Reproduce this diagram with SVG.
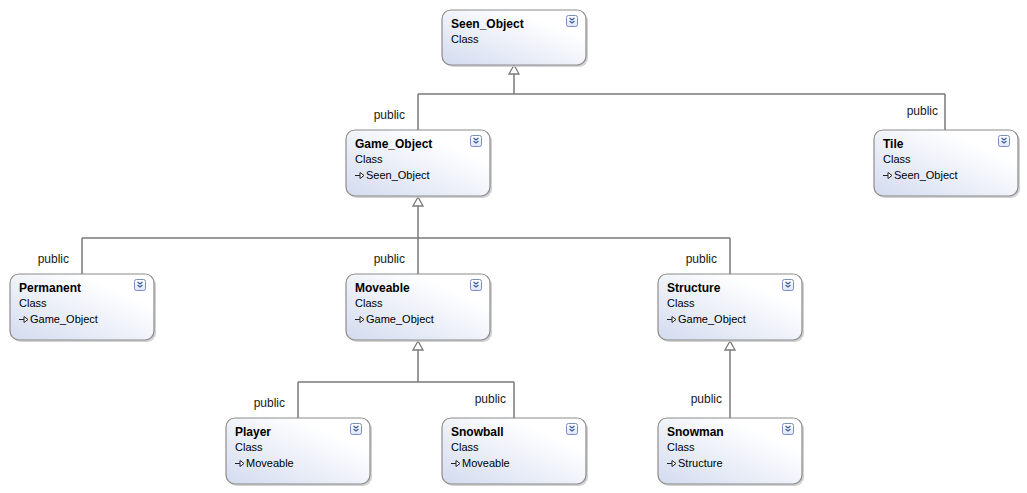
<svg xmlns="http://www.w3.org/2000/svg" width="1027" height="493" viewBox="0 0 1027 493">
<defs>
<linearGradient id="g" x1="0" y1="1" x2="1" y2="0">
<stop offset="0" stop-color="#d3dbef"/>
<stop offset="0.75" stop-color="#ffffff"/>
</linearGradient>
<linearGradient id="ig" x1="0" y1="0" x2="0" y2="1">
<stop offset="0" stop-color="#ffffff"/>
<stop offset="1" stop-color="#dfe6f5"/>
</linearGradient>
<g id="icon">
<rect x="0.5" y="0.5" width="11" height="11" rx="2" fill="url(#ig)" stroke="#7b8fb8"/>
<path d="M3.5 3 L6 5 L8.5 3 M3.5 6 L6 8 L8.5 6" fill="none" stroke="#3a5a9a" stroke-width="1.2"/>
</g>
<g id="inh">
<path d="M0 -3.5 L5 -3.5" stroke="#222" stroke-width="1" fill="none"/>
<path d="M5 -6.5 L9 -3.5 L5 -0.5 Z" fill="#fff" stroke="#222" stroke-width="1"/>
</g>
</defs>
<style>
.box{fill:url(#g);stroke:#8c8c8c;stroke-width:1.2}
.sh{fill:#c8c8c8;opacity:0.8}
.t{font-family:"Segoe UI","Liberation Sans",sans-serif;font-size:12px;font-weight:bold;fill:#000}
.s{font-family:"Segoe UI","Liberation Sans",sans-serif;font-size:11px;fill:#000}
.lbl{font-family:"Segoe UI","Liberation Sans",sans-serif;font-size:12px;fill:#1a1a1a}
.ln{fill:none;stroke:#7a7a7a;stroke-width:1.5}
.tri{fill:#fff;stroke:#7a7a7a;stroke-width:1.3}
</style>
<rect width="1027" height="493" fill="#fff"/>

<g id="connectors">
<path class="ln" d="M514 74 V94 M418 94 H945 M418 94 V130 M945 94 V130"/>
<path class="tri" d="M514 65 L519 74 L509 74 Z"/>
<path class="ln" d="M418 206 V238 M82 238 H730 M82 238 V274 M418 238 V274 M730 238 V274"/>
<path class="tri" d="M418 197 L423 206 L413 206 Z"/>
<path class="ln" d="M418 350 V382 M298 382 H514 M298 382 V418 M514 382 V418"/>
<path class="tri" d="M418 341 L423 350 L413 350 Z"/>
<path class="ln" d="M730 350 V418"/>
<path class="tri" d="M730 341 L735 350 L725 350 Z"/>
<text class="lbl" x="405" y="119" text-anchor="end">public</text>
<text class="lbl" x="938" y="115" text-anchor="end">public</text>
<text class="lbl" x="69" y="263" text-anchor="end">public</text>
<text class="lbl" x="405" y="263" text-anchor="end">public</text>
<text class="lbl" x="717" y="263" text-anchor="end">public</text>
<text class="lbl" x="285" y="407" text-anchor="end">public</text>
<text class="lbl" x="506" y="403" text-anchor="end">public</text>
<text class="lbl" x="722" y="403" text-anchor="end">public</text>
</g>

<g id="seen_object">
<rect class="sh" x="444" y="12" width="144" height="55" rx="9"/>
<rect class="box" x="442" y="10" width="144" height="55" rx="9"/>
<text class="t" x="451" y="28">Seen_Object</text>
<text class="s" x="451" y="43">Class</text>
<use href="#icon" x="566" y="15"/>
</g>

<g id="game_object">
<rect class="sh" x="348" y="132" width="144" height="66" rx="9"/>
<rect class="box" x="346" y="130" width="144" height="66" rx="9"/>
<text class="t" x="355" y="148">Game_Object</text>
<text class="s" x="355" y="163">Class</text>
<use href="#inh" x="355" y="179"/>
<text class="s" x="366" y="179">Seen_Object</text>
<use href="#icon" x="470" y="135"/>
</g>

<g id="tile">
<rect class="sh" x="876" y="132" width="144" height="66" rx="9"/>
<rect class="box" x="874" y="130" width="144" height="66" rx="9"/>
<text class="t" x="883" y="148">Tile</text>
<text class="s" x="883" y="163">Class</text>
<use href="#inh" x="883" y="179"/>
<text class="s" x="894" y="179">Seen_Object</text>
<use href="#icon" x="998" y="135"/>
</g>

<g id="permanent">
<rect class="sh" x="12" y="276" width="144" height="66" rx="9"/>
<rect class="box" x="10" y="274" width="144" height="66" rx="9"/>
<text class="t" x="19" y="292">Permanent</text>
<text class="s" x="19" y="307">Class</text>
<use href="#inh" x="19" y="323"/>
<text class="s" x="30" y="323">Game_Object</text>
<use href="#icon" x="134" y="279"/>
</g>

<g id="moveable">
<rect class="sh" x="348" y="276" width="144" height="66" rx="9"/>
<rect class="box" x="346" y="274" width="144" height="66" rx="9"/>
<text class="t" x="355" y="292">Moveable</text>
<text class="s" x="355" y="307">Class</text>
<use href="#inh" x="355" y="323"/>
<text class="s" x="366" y="323">Game_Object</text>
<use href="#icon" x="470" y="279"/>
</g>

<g id="structure">
<rect class="sh" x="660" y="276" width="144" height="66" rx="9"/>
<rect class="box" x="658" y="274" width="144" height="66" rx="9"/>
<text class="t" x="667" y="292">Structure</text>
<text class="s" x="667" y="307">Class</text>
<use href="#inh" x="667" y="323"/>
<text class="s" x="678" y="323">Game_Object</text>
<use href="#icon" x="782" y="279"/>
</g>

<g id="player">
<rect class="sh" x="228" y="420" width="144" height="66" rx="9"/>
<rect class="box" x="226" y="418" width="144" height="66" rx="9"/>
<text class="t" x="235" y="436">Player</text>
<text class="s" x="235" y="451">Class</text>
<use href="#inh" x="235" y="467"/>
<text class="s" x="246" y="467">Moveable</text>
<use href="#icon" x="350" y="423"/>
</g>

<g id="snowball">
<rect class="sh" x="444" y="420" width="144" height="66" rx="9"/>
<rect class="box" x="442" y="418" width="144" height="66" rx="9"/>
<text class="t" x="451" y="436">Snowball</text>
<text class="s" x="451" y="451">Class</text>
<use href="#inh" x="451" y="467"/>
<text class="s" x="462" y="467">Moveable</text>
<use href="#icon" x="566" y="423"/>
</g>

<g id="snowman">
<rect class="sh" x="660" y="420" width="144" height="66" rx="9"/>
<rect class="box" x="658" y="418" width="144" height="66" rx="9"/>
<text class="t" x="667" y="436">Snowman</text>
<text class="s" x="667" y="451">Class</text>
<use href="#inh" x="667" y="467"/>
<text class="s" x="678" y="467">Structure</text>
<use href="#icon" x="782" y="423"/>
</g>
</svg>
